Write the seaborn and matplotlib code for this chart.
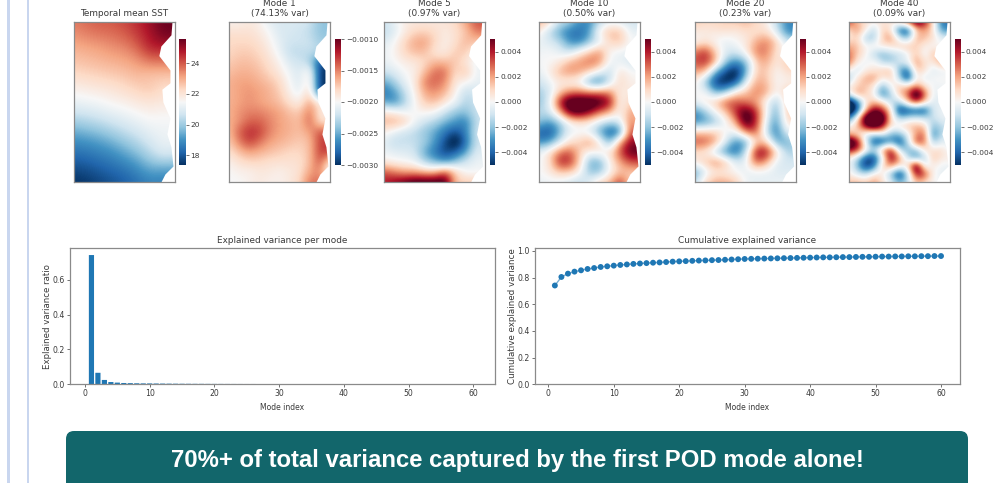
import numpy as np
import pandas as pd
import matplotlib
matplotlib.use("Agg")
import matplotlib.pyplot as plt
from matplotlib.patches import FancyBboxPatch, Rectangle
from matplotlib.ticker import FormatStrFormatter
from matplotlib.transforms import IdentityTransform
import seaborn as sns

n = np.nan
mean_sst = [
 [23.6,23.8,24.0,24.0,24.2,24.5,25.0,25.5,n],
 [23.3,23.5,23.6,23.7,23.9,24.3,24.8,25.4,n],
 [22.9,23.0,23.1,23.3,23.4,23.8,24.6,n,n],
 [22.6,22.7,22.8,22.9,23.0,23.2,23.6,n,n],
 [22.2,22.3,22.4,22.5,22.6,22.8,22.6,n,n],
 [21.7,21.8,21.9,22.0,22.2,22.4,22.6,22.2,n],
 [21.2,21.3,21.4,21.6,21.7,21.9,22.0,21.9,n],
 [20.5,20.6,20.8,21.0,21.2,21.4,21.6,21.5,n],
 [19.6,19.8,20.0,20.3,20.6,20.9,21.2,21.3,n],
 [18.9,19.0,19.2,19.5,19.9,20.3,20.8,21.2,n],
 [18.3,18.4,18.6,18.8,19.2,19.6,20.2,20.8,20.6],
 [17.8,17.9,18.1,18.3,18.5,18.9,19.4,19.3,n],
 [17.4,17.5,17.7,17.9,18.1,18.4,18.7,n,n],
]
mode1 = [
 [-1.95,-1.95,-1.9,-1.95,-2.1,-2.15,-2.15,-2.15,-2.2,-2.4,n],
 [-1.85,-1.85,-1.85,-1.9,-2.0,-2.15,-2.15,-2.2,-2.25,-2.4,n],
 [-1.8,-1.8,-1.8,-1.85,-1.95,-2.1,-2.2,-2.2,-2.2,-2.35,n],
 [-1.8,-1.75,-1.75,-1.8,-1.9,-2.05,-2.25,-2.25,-2.25,n,n],
 [-1.75,-1.7,-1.7,-1.75,-1.85,-1.95,-2.15,-2.2,-2.3,-2.9,n],
 [-1.7,-1.65,-1.65,-1.7,-1.8,-1.9,-2.05,-2.15,-1.9,-3.0,n],
 [-1.65,-1.6,-1.6,-1.65,-1.7,-1.8,-2.0,-2.15,-1.85,-3.0,-3.0],
 [-1.65,-1.6,-1.55,-1.6,-1.65,-1.75,-1.95,-2.1,-1.75,-3.0,n],
 [-1.65,-1.6,-1.55,-1.6,-1.65,-1.7,-1.85,-1.95,-1.6,-1.9,n],
 [-1.65,-1.55,-1.5,-1.5,-1.55,-1.6,-1.7,-1.75,-1.45,-1.9,n],
 [-1.65,-1.55,-1.4,-1.4,-1.5,-1.6,-1.65,-1.7,-1.4,-1.85,n],
 [-1.7,-1.4,-1.25,-1.3,-1.5,-1.6,-1.65,-1.7,-1.6,-1.35,n],
 [-1.75,-1.5,-1.3,-1.45,-1.6,-1.65,-1.7,-1.75,-1.7,-1.3,n],
 [-1.85,-1.7,-1.6,-1.65,-1.7,-1.75,-1.8,-1.8,-1.7,-1.3,n],
 [-1.95,-1.85,-1.8,-1.8,-1.85,-1.85,-1.85,-1.85,-1.7,-1.35,-1.9],
 [-2.0,-1.95,-1.95,-1.9,-1.9,-1.95,-1.9,-1.85,-1.6,-1.5,-2.1],
 [-2.0,-2.0,-1.95,-1.9,-1.95,-1.95,-1.9,-1.8,-1.45,n,n],
]
mode5 = [
 [-0.8,-0.3,0.3,0.4,0.4,0.4,0.5,0.7,1.5,2.5,n],
 [-1,-0.5,0.3,0.8,0.9,0.7,0.3,0.6,1,2,n],
 [-0.5,0,0.8,1.5,1.6,0.8,0.2,0.6,1.3,1,n],
 [-0.2,0.1,0.8,1.2,1.2,0.4,0.3,1,1,0.2,n],
 [-0.3,0,0.3,0.4,0.7,1.3,1.2,1.1,0.4,-0.2,n],
 [-0.8,-0.5,0,0.2,1.2,2.2,2.2,0.6,1.2,-0.2,-0.3],
 [-2,-1.3,-0.3,0.3,2.0,2.3,1.8,0.4,0.1,-0.3,n],
 [-2.8,-2.2,-1,0.2,1.5,1.8,1.3,0.2,-1,-0.6,n],
 [-2,-2.5,-1.3,0,1,1.2,0.5,-0.2,-1.2,-0.8,n],
 [0.5,0.3,-0.2,0,0.2,0,-0.8,-1.5,-1.6,-0.8,n],
 [1.3,1.4,1,-0.1,-0.8,-1.2,-1.8,-2.2,-2.7,-1,-0.5],
 [0.2,-0.3,-0.8,-1,-1.5,-2,-2.8,-3.5,-2.6,-0.8,-0.3],
 [-0.4,-1,-0.9,-0.9,-1.3,-2.2,-3.5,-4.5,-3,-0.8,n],
 [-0.2,-0.4,-0.5,-0.7,-2,-2.8,-3.6,-3.2,-2.2,-0.5,n],
 [0.3,0.1,0,-0.2,-1.2,-1.8,-2.3,-1.5,-0.6,-0.2,n],
 [2.5,2,1.5,1.5,1.2,1.2,2.5,1,-0.1,n,n],
 [3,3.5,4,4.5,4.5,4.5,4.5,1,n,n,n],
]
mode10 = [
 [1.5,0.8,-0.8,-1.2,-2.3,-2.5,-1,-0.3,-0.5,-0.7,n],
 [0.3,-1,-2,-2.8,-3,-2.2,0.3,1.2,1.2,-0.3,n],
 [-0.3,-0.5,-1,-2.3,-2.6,-1.5,-0.5,0.8,1,0,n],
 [-0.2,0,-0.3,-0.8,0.2,1.0,1.8,0,-0.2,-0.3,n],
 [0,0,0.3,1.3,1.7,2.2,1.8,-0.2,-0.3,-0.6,n],
 [-0.3,0.2,1.3,1.8,1.5,0.8,-0.2,-1,0.6,0,n],
 [-0.8,-0.2,0.3,0,-0.2,-2.2,-2.8,-0.7,0.8,0.2,n],
 [-1.3,-0.8,0.8,1.8,2,1.8,2,1.8,0.2,0.5,0],
 [-1.5,-0.6,3,5,5,5,4.5,3.5,0,0.8,n],
 [-1,-0.8,1.2,4,4.5,3.5,2.2,1.5,0,1.5,n],
 [-1.5,-2.2,-1.5,0,0.5,0.3,-0.5,-1.2,-0.5,2.0,1],
 [-3,-3.5,-2,-0.3,-0.2,-0.4,-2,-3.2,-3,2.5,n],
 [-2.5,-2.2,-0.8,0.5,0.9,1.8,0.3,-2,1.5,3.5,n],
 [-0.2,0.5,2,2.5,1,0,0.5,0.5,2.5,4,n],
 [-0.2,0.5,3,3,1,-1.8,-2,0.2,1.5,2.5,n],
 [0,0.3,1,1,0.2,-1.5,-1.5,0,1,1,n],
 [-0.3,-0.2,-0.3,-0.6,-1,-0.3,0.8,1.2,3,0.8,n],
]
mode20 = [
 [1,0.8,0.8,1,1,1.3,0.8,0.3,-1,-2.5,-2.5],
 [0.3,0.3,0.4,0.5,0.3,0.6,0.5,0.7,-0.5,-2.5,n],
 [0,0.5,0,-0.4,0,0.3,1.5,2,1,-0.6,n],
 [2,3,1,-0.5,-0.7,0.3,2,2,0.5,0,n],
 [2.5,3,1.5,-1.5,-2.5,-1.8,1,1.5,0.3,1.2,n],
 [1.5,1.2,-2,-3.5,-4.5,-2,1,1,0,0.6,n],
 [0.3,-1.5,-3.8,-4.2,-3.5,-0.5,1.5,1.2,0,0.2,n],
 [0,0,-2,-1.5,0.5,1,2,1.5,0,1,n],
 [-0.3,0.5,1,2.5,2.5,2,1.5,0,-1.5,1,n],
 [-2.5,-1.5,0,1,3,4.5,3,0,-2,1,n],
 [-2.5,-2.2,-1.5,-0.2,1.5,4.8,3,-0.5,-2.5,0.8,0.5],
 [1,1,1,0,-0.3,2,2.5,-1,-2.8,-0.3,n],
 [2.5,2.5,1.5,-0.5,-2.5,-2.2,0.8,1,-2,-2,-1],
 [0.5,0.3,-1,-2.5,-3,-1,3.5,3.5,0.8,-1.2,n],
 [0.5,1,2,1.2,-0.5,-0.3,2.5,1.5,-0.5,-0.6,n],
 [-2.2,-0.5,0.3,0.2,0,-0.3,-0.3,-0.3,-0.5,-0.5,n],
 [-1,0.8,1.5,1.5,1,-0.2,-0.3,-0.3,-0.2,n,n],
]
mode40 = [
 [2.5,1,0.5,0.2,0.5,0.3,0.8,2,4,3,0.5,-2.5,n],
 [0.5,1.5,0.3,-1,0.8,0.5,-2.8,-3,0.8,1.5,0.5,-2,n],
 [0.3,0.8,-1.2,-1.2,1,1.5,-0.5,-1.5,1.2,1,0.5,-0.3,n],
 [1.2,1,0,0.3,0.3,0.5,0.8,1,0.8,0.2,0,n,n],
 [2,0.8,0.2,-1,-1.5,-1,-0.8,-0.2,1,-0.3,1,1,n],
 [2,0.3,-0.3,0.2,-1,-1.2,-0.5,-0.2,1.5,0.5,0.3,1.5,n],
 [0.3,-0.8,0.3,0.3,0.8,1,-1.8,-2.5,1,0.5,-0.5,-0.2,-0.2],
 [-1.3,0.5,1.2,1.5,0.2,0.8,-1,-3.5,0.3,-0.5,0,0,n],
 [0.2,0.8,1,0.3,-1.5,0,0.8,0.8,1.5,0.5,-0.2,-0.1,n],
 [-0.3,1.5,0.8,0,-2.5,-1,1,2,5,2,-0.3,-0.2,n],
 [-4.5,-2.5,0.3,1,0.5,-1,-1,1,2.5,0.8,-0.5,-0.3,n],
 [-5,-3,1,3.5,2.5,0.5,-3.5,-3,-3,-3,-0.5,-0.2,n],
 [-2.5,0.3,4.5,5,4.5,0.5,-1.2,-0.8,-0.5,-0.8,-0.8,-0.2,n],
 [0.2,1,3.5,4.5,3,0.3,0.5,1,1.2,0.8,-1.5,-0.8,n],
 [1,0.5,-0.5,-1,-0.3,-1.5,-1.5,-0.3,1.5,2,-2.5,-0.8,n],
 [5,3.5,-0.5,-3,-3,-2,-3,-1,2.5,1.8,-1.2,-0.3,n],
 [3,2.5,0.3,-1,1.5,3,-0.8,-1.5,-1.5,0.5,0.5,0.6,-0.2],
 [0.2,-1,-3,-3.2,-0.3,3.5,1.5,-0.8,-2,-1,1,0.3,n],
 [0,-1.5,-3.5,-2.5,0.8,1.5,0.3,0.5,4.5,-0.5,0.3,-0.2,n],
 [0.3,-0.5,-0.8,0.3,0.3,-1.5,-3.5,-1,3,2.5,0,-0.3,n],
 [1,1.2,0.8,1.5,0.5,-0.3,-1.5,-0.8,1,0.5,0,n,n],
]
# Units of the grids above, per map
map_units = [1, 1e-3, 1.3e-3, 1.3e-3, 1.3e-3, 1.5e-3]

coast_y = [0, .08, .15, .21, .30, .38, .42, .50, .60, .70, .78, .90, .95, 1]
coast_x = [.97, .96, .86, .84, .95, .95, .87, .88, .95, .92, .96, .98, .90, .86]

map_titles = ["Temporal mean SST", "Mode 1\n(74.13% var)", "Mode 5\n(0.97% var)",
              "Mode 10\n(0.50% var)", "Mode 20\n(0.23% var)", "Mode 40\n(0.09% var)"]
map_grids = [np.array(g)*u for g, u in zip([mean_sst, mode1, mode5, mode10, mode20, mode40], map_units)]
map_limits = [(17.38, 25.56), (-0.003, -0.001), (-0.005, 0.005), (-0.005, 0.005),
              (-0.005, 0.005), (-0.005, 0.005)]
map_ticks = [[18,20,22,24], [-0.003,-0.0025,-0.002,-0.0015,-0.001],
             [-0.004,-0.002,0,0.002,0.004], [-0.004,-0.002,0,0.002,0.004],
             [-0.004,-0.002,0,0.002,0.004], [-0.004,-0.002,0,0.002,0.004]]
map_fmt = ["%d", "%.4f", "%.3f", "%.3f", "%.3f", "%.3f"]

variance = [.7413,.066,.025,.013,.0097,.0075,.0066,.0058,.0052,.0050,
            .0045,.0041,.0037,.0034,.0031,.0029,.0027,.0026,.0024,.0023,
            .0022,.0021,.0020,.0019,.0018,.0018,.0017,.0016,.0016,.0015,
            .0015,.0014,.0014,.0013,.0013,.0012,.0012,.0012,.0011,.0011,
            .0011,.0010,.0010,.0010,.0010,.0009,.0009,.0009,.0009,.0009,
            .0009,.0008,.0008,.0008,.0008,.0008,.0007,.0007,.0007,.0007]
cumulative = [.741,.805,.830,.845,.855,.865,.872,.880,.885,.890,
              .895,.899,.903,.906,.909,.912,.914,.917,.920,.922,
              .924,.926,.928,.929,.931,.932,.934,.936,.938,.940,
              .941,.942,.943,.944,.945,.946,.947,.948,.949,.950,
              .951,.952,.952,.953,.954,.954,.955,.956,.956,.957,
              .958,.958,.959,.959,.960,.960,.961,.961,.962,.962]
modes = list(range(1, 61))
banner_text = "70%+ of total variance captured by the first POD mode alone!"

W, H = 994, 483
fig = plt.figure(figsize=(W/100, H/100), dpi=100, facecolor="white")
TXT = "#3a3a3a"
SP = "#8a8a8a"

def box(x0, y0, x1, y1):
    return [x0/W, 1-y1/H, (x1-x0)/W, (y1-y0)/H]

for x0, x1 in [(7.3, 10), (26.7, 29.3)]:
    fig.add_artist(Rectangle((x0/W, 0), (x1-x0)/W, 1, transform=fig.transFigure, color="#c9d6ef", lw=0))

cmap = sns.color_palette("RdBu_r", as_cmap=True)

map_x = [(74, 175, 179, 185.5), (229, 330, 334.5, 341), (383.5, 484.7, 489.5, 495.5),
         (539, 640, 644.7, 651), (694.5, 795.7, 799.5, 805.5), (849, 950, 955, 961)]

for grid, title, lim, ticks, fmt, (x0, x1, c0, c1) in zip(map_grids, map_titles, map_limits, map_ticks, map_fmt, map_x):
    ax = fig.add_axes(box(x0, 22, x1, 182))
    cax = fig.add_axes(box(c0, 39, c1, 165))
    filled = pd.DataFrame(grid).ffill(axis=1).to_numpy()
    rows, cols = filled.shape
    sns.heatmap(filled, ax=ax, cbar_ax=cax, cmap=cmap, vmin=lim[0], vmax=lim[1],
                xticklabels=False, yticklabels=False,
                cbar_kws={"ticks": ticks, "format": fmt})
    # smooth rendering of the same grid on top of the heatmap cells
    ax.imshow(filled, cmap=cmap, vmin=lim[0], vmax=lim[1], aspect="auto", interpolation="bicubic",
              extent=(-.5, cols-.5, rows-.5, -.5), zorder=2)
    ax.fill_betweenx(np.array(coast_y)*(rows-1), np.array(coast_x)*(cols-1), cols-1,
                     color="white", lw=0, zorder=3)
    ax.set_xlim(0, cols-1)
    ax.set_ylim(rows-1, 0)
    ax.set_title(title, fontsize=6.4, color=TXT, pad=4.5, linespacing=1.1)
    for s in ax.spines.values():
        s.set_visible(True); s.set_color(SP); s.set_linewidth(0.9); s.set_zorder(5)
    cax.tick_params(labelsize=5.3, length=2, width=0.5, colors=TXT, pad=1.5)
    cax.yaxis.set_major_formatter(FormatStrFormatter(fmt))
    cax.set_yticks(ticks)
    cax.set_yticklabels([(fmt % t).replace("-", "\u2212") for t in ticks])
    for s in cax.spines.values():
        s.set_visible(False)

def style(ax):
    for s in ax.spines.values():
        s.set_color(SP); s.set_linewidth(0.9)
    ax.tick_params(labelsize=5.6, length=2, width=0.5, colors=TXT, pad=1.5)
    ax.set_xticks(range(0, 61, 10))
    ax.set_xlabel("Mode index", fontsize=5.5, color=TXT, labelpad=3.5)

df = pd.DataFrame({"mode": modes, "variance": variance, "cumulative": cumulative})
ax = fig.add_axes(box(69.7, 248.3, 495, 384.3))
sns.barplot(data=df, x="mode", y="variance", native_scale=True, color="#1f77b4",
            saturation=1, width=0.8, ax=ax)
for p in ax.patches:
    p.set_snap(False)
ax.set_xlim(-2.36, 63.35); ax.set_ylim(0, 0.78)
ax.set_yticks([0, 0.2, 0.4, 0.6])
style(ax)
ax.set_ylabel("Explained variance ratio", fontsize=6.2, color=TXT, labelpad=0.5)
ax.set_title("Explained variance per mode", fontsize=6.4, color=TXT, pad=4)

ax = fig.add_axes(box(534.7, 248.3, 960, 384.3))
sns.lineplot(data=df, x="mode", y="cumulative", color="#1f77b4", lw=1, alpha=0.6, ax=ax)
sns.scatterplot(data=df, x="mode", y="cumulative", color="#1f77b4", linewidth=0,
                s=np.full(len(df), 18.0), ax=ax, zorder=3)
ax.set_xlim(-2.08, 62.9); ax.set_ylim(0, 1.02)
ax.set_yticks([0, 0.2, 0.4, 0.6, 0.8, 1.0])
style(ax)
ax.set_ylabel("Cumulative explained variance", fontsize=6.3, color=TXT, labelpad=0)
ax.set_title("Cumulative explained variance", fontsize=6.4, color=TXT, pad=4)

fig.add_artist(FancyBboxPatch((66, -10), 902, H-431+10, boxstyle="round,pad=0,rounding_size=8",
                              transform=IdentityTransform(), facecolor="#12666b", edgecolor="none"))
fig.text(517/W, 1-460/H, banner_text, ha="center", va="center", color="white",
         fontsize=17.2, fontweight="bold", family="Liberation Sans")

fig.savefig("out.png", dpi=100, facecolor="white")
